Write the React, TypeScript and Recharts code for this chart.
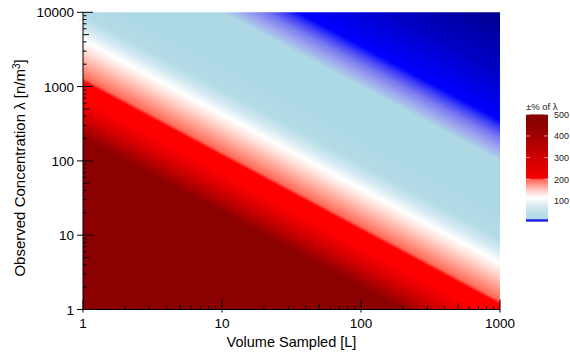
import React from 'react';
import { ComposedChart, BarChart, Bar, XAxis, YAxis, ReferenceArea, Label } from 'recharts';

const FONT = '"Liberation Sans", Arial, Helvetica, sans-serif';

// axes
const volumeTicks = [1, 10, 100, 1000];
const concTicks = [1, 10, 100, 1000, 10000];
const minorSteps = [2, 3, 4, 5, 6, 7, 8, 9];

// colour of the field along lambda * V
const heatProduct = [1, 200, 280, 450, 700, 1170, 1320, 2000, 3000, 4200, 6000, 9000, 20000, 100000, 140000, 200000, 280000, 355000, 1500000, 10000000];
const heatColor = ['#8b0000', '#8b0000', '#b00000', '#e00000', '#ff0000', '#ff0000', '#ff6a5a', '#ffa595', '#ffdcd4', '#ffffff', '#d6ebf1', '#b4dbe7', '#add8e6', '#add8e6', '#9fa8ee', '#7a7af0', '#3a3af8', '#0000ff', '#0000c8', '#00008b'];

// colour bar (±% of lambda)
const legendValue = [4, 8, 14, 18, 60, 100, 112, 125, 160, 198, 205, 300, 400, 460, 500];
const legendColor = ['#00008b', '#0000ff', '#4a4af5', '#add8e6', '#c8e4ed', '#edf6f9', '#ffffff', '#fff4f2', '#ffb8b0', '#ff6655', '#f40000', '#d00000', '#a20000', '#8b0000', '#8b0000'];
const legendTicks = [100, 200, 300, 400, 500];

const withMinor = (majors: number[]) =>
  majors.flatMap((d, i) => (i < majors.length - 1 ? [d, ...minorSteps.map((m) => d * m)] : [d]));

const leadDigit = (v: number) => Math.round(v / 10 ** Math.floor(Math.log10(v) + 1e-9));

const maxProduct = volumeTicks[volumeTicks.length - 1] * concTicks[concTicks.length - 1];

function VolumeTick(props: any) {
  const { x, y, payload } = props;
  const v = payload.value;
  const major = volumeTicks.includes(v);
  const len = major ? 10 : leadDigit(v) === 5 ? 6 : 3.5;
  return (
    <g>
      <line x1={x} x2={x} y1={y - len} y2={y + (major ? 3 : 0)} stroke="#000" strokeWidth={1} />
      {major && (
        <text x={x} y={y + 18.5} textAnchor="middle" fontSize={13.5} fontFamily={FONT} fill="#000">
          {v}
        </text>
      )}
    </g>
  );
}

function ConcTick(props: any) {
  const { x, y, payload } = props;
  const v = payload.value;
  const major = concTicks.includes(v);
  const len = major ? 10 : leadDigit(v) === 5 ? 6 : 3.5;
  return (
    <g>
      <line x1={x - (major ? 6 : 0)} x2={x + len} y1={y} y2={y} stroke="#000" strokeWidth={1} />
      {major && (
        <text x={x - 9} y={y + 5} textAnchor="end" fontSize={13.5} fontFamily={FONT} fill="#000">
          {v}
        </text>
      )}
    </g>
  );
}

function LegendTick(props: any) {
  const { x, y, payload } = props;
  return (
    <g>
      <line x1={x - 22} x2={x - 18} y1={y} y2={y} stroke="rgba(255,255,255,0.55)" />
      <line x1={x - 4} x2={x} y1={y} y2={y} stroke="rgba(255,255,255,0.55)" />
      <text x={x + 6} y={y + 3.5} fontSize={9} fontFamily={FONT} fill="#222">
        {payload.value}
      </text>
    </g>
  );
}

function YTitle(props: any) {
  const { viewBox } = props;
  const cx = viewBox.x + 17;
  const cy = viewBox.y + viewBox.height / 2 + 7;
  return (
    <text x={cx} y={cy} transform={`rotate(-90 ${cx} ${cy})`} textAnchor="middle" fontSize={15} fontFamily={FONT} fill="#000">
      Observed Concentration λ [n/m
      <tspan dy={-5} fontSize={10}>3</tspan>
      <tspan dy={5}>]</tspan>
    </text>
  );
}

function XTitle(props: any) {
  const { viewBox } = props;
  return (
    <text x={viewBox.x + viewBox.width / 2} y={viewBox.y + 37} textAnchor="middle" fontSize={14.5} fontFamily={FONT} fill="#000">
      Volume Sampled [L]
    </text>
  );
}

export default function App() {
  const legendMin = legendValue[0];
  const legendMax = legendValue[legendValue.length - 1];
  const legendRow = [{ name: 'pct', range: [legendMin, legendMax] }];
  // gradient runs perpendicular to lines of constant lambda*V in the box of the field
  const k = Math.log10(maxProduct) / 25;

  return (
    <div style={{ position: 'absolute', left: 0, top: 0, width: 570, height: 352, background: '#fff', fontFamily: FONT }}>
      <ComposedChart width={570} height={352} margin={{ top: 12.3, right: 70, bottom: 12.5, left: 8 }}>
        <defs>
          <linearGradient id="heatFill" x1={0} y1={1} x2={3 * k} y2={1 - 4 * k}>
            {heatProduct.map((p, i) => (
              <stop key={i} offset={Math.log10(p) / Math.log10(maxProduct)} stopColor={heatColor[i]} />
            ))}
          </linearGradient>
        </defs>
        <ReferenceArea
          x1={volumeTicks[0]}
          x2={volumeTicks[volumeTicks.length - 1]}
          y1={concTicks[0]}
          y2={concTicks[concTicks.length - 1]}
          fill="url(#heatFill)"
          fillOpacity={1}
          stroke="none"
          ifOverflow="visible"
        />
        <XAxis
          type="number"
          scale="log"
          dataKey="volume"
          domain={[volumeTicks[0], volumeTicks[volumeTicks.length - 1]]}
          ticks={withMinor(volumeTicks)}
          interval={0}
          allowDataOverflow
          height={30}
          tickSize={0}
          tickMargin={0}
          tickLine={false}
          axisLine={{ stroke: '#000' }}
          tick={<VolumeTick />}
        >
          <Label content={<XTitle />} />
        </XAxis>
        <YAxis
          type="number"
          scale="log"
          dataKey="conc"
          domain={[concTicks[0], concTicks[concTicks.length - 1]]}
          ticks={withMinor(concTicks)}
          interval={0}
          allowDataOverflow
          width={75}
          tickSize={0}
          tickMargin={0}
          tickLine={false}
          axisLine={{ stroke: '#000' }}
          tick={<ConcTick />}
        >
          <Label content={<YTitle />} />
        </YAxis>
      </ComposedChart>

      <div style={{ position: 'absolute', left: 526, top: 101, fontSize: 9.5, lineHeight: '12px', whiteSpace: 'nowrap', color: '#222' }}>
        ±% of λ
      </div>
      <div style={{ position: 'absolute', left: 514, top: 100 }}>
        <BarChart width={56} height={130} data={legendRow} margin={{ top: 14.3, right: 0, bottom: 8.3, left: 12 }} barCategoryGap={0}>
          <defs>
            <linearGradient id="legendFill" x1={0} y1={1} x2={0} y2={0}>
              {legendValue.map((v, i) => (
                <stop key={i} offset={(v - legendMin) / (legendMax - legendMin)} stopColor={legendColor[i]} />
              ))}
            </linearGradient>
          </defs>
          <XAxis dataKey="name" hide />
          <YAxis
            orientation="right"
            type="number"
            width={22}
            domain={[legendMin, legendMax]}
            ticks={legendTicks}
            interval={0}
            allowDataOverflow
            tickSize={0}
            tickMargin={0}
            tickLine={false}
            axisLine={false}
            tick={<LegendTick />}
          />
          <Bar dataKey="range" fill="url(#legendFill)" isAnimationActive={false} />
        </BarChart>
      </div>
    </div>
  );
}
